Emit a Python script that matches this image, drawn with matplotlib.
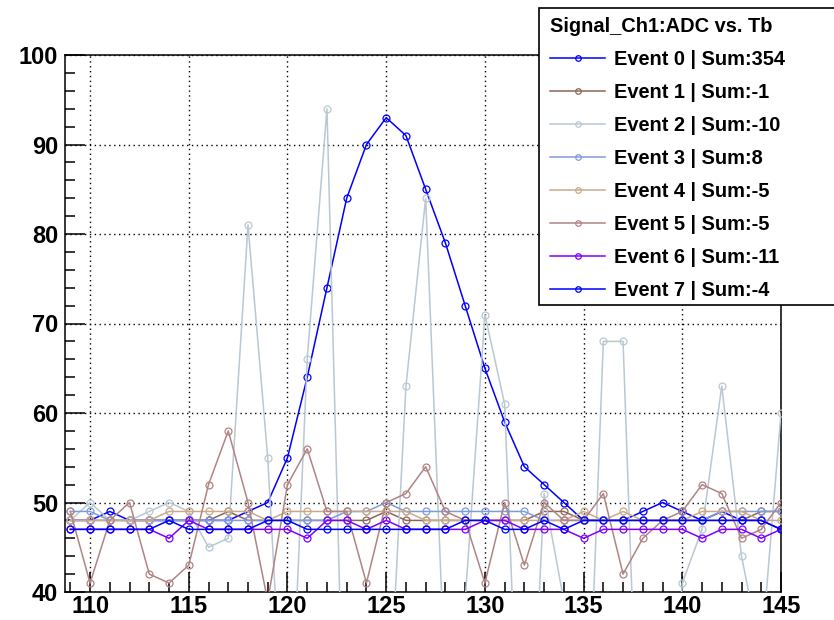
import matplotlib
matplotlib.use("Agg")
import matplotlib.pyplot as plt
from matplotlib.patches import Rectangle
from matplotlib.ticker import MultipleLocator

plt.rcParams['font.family'] = ['Liberation Sans', 'DejaVu Sans']
plt.rcParams['font.weight'] = 'bold'

tb = [109, 110, 111, 112, 113, 114, 115, 116, 117, 118, 119, 120, 121, 122, 123,
      124, 125, 126, 127, 128, 129, 130, 131, 132, 133, 134, 135, 136, 137, 138,
      139, 140, 141, 142, 143, 144, 145]

ev0 = [48, 48, 49, 48, 48, 48, 48, 48, 48, 49, 50, 55, 64, 74, 84, 90, 93, 91, 85,
       79, 72, 65, 59, 54, 52, 50, 48, 48, 48, 49, 50, 49, 48, 49, 48, 48, 47]
ev1 = [48, 48, 48, 48, 48, 48, 48, 48, 49, 48, 48, 48, 48, 48, 48, 48, 49, 48, 48,
       48, 48, 48, 48, 48, 49, 49, 48, 48, 48, 48, 48, 48, 48, 48, 48, 49, 49]
ev2 = [48, 50, 48, 48, 49, 50, 49, 45, 46, 81, 55, 15, 66, 94, 10, 15, 20, 63, 84,
       29, 39, 71, 61, 5, 51, 39, 10, 68, 68, 5, 10, 41, 47, 63, 44, 33, 60]
ev3 = [49, 49, 48, 48, 48, 48, 48, 48, 48, 48, 48, 48, 48, 48, 49, 49, 50, 49, 49,
       49, 49, 49, 49, 49, 48, 48, 48, 48, 48, 48, 48, 48, 48, 49, 49, 49, 49]
ev4 = [48, 48, 48, 48, 48, 49, 49, 49, 49, 49, 48, 49, 49, 49, 49, 49, 49, 49, 48,
       48, 48, 48, 48, 48, 48, 48, 49, 48, 49, 48, 48, 48, 49, 49, 49, 48, 48]
ev5 = [49, 41, 48, 50, 42, 41, 43, 52, 58, 50, 39, 52, 56, 49, 49, 41, 50, 51, 54,
       49, 48, 41, 50, 43, 50, 48, 48, 51, 42, 46, 48, 49, 52, 51, 46, 47, 50]
ev6 = [47, 47, 47, 47, 47, 46, 48, 47, 47, 47, 47, 47, 46, 48, 48, 47, 48, 47, 47,
       47, 47, 48, 48, 47, 47, 47, 46, 47, 47, 47, 47, 47, 46, 47, 47, 46, 47]
ev7 = [47, 47, 47, 47, 47, 48, 47, 47, 47, 47, 48, 48, 47, 47, 47, 47, 47, 47, 47,
       47, 48, 48, 47, 47, 48, 47, 48, 48, 48, 48, 48, 48, 48, 48, 48, 48, 47]

series = [ev0, ev1, ev2, ev3, ev4, ev5, ev6, ev7]
labels = ["Event 0 | Sum:354", "Event 1 | Sum:-1", "Event 2 | Sum:-10",
          "Event 3 | Sum:8", "Event 4 | Sum:-5", "Event 5 | Sum:-5",
          "Event 6 | Sum:-11", "Event 7 | Sum:-4"]
colors = ["#0000ff", "#8c6658", "#b9c8d2", "#7f9bd9", "#c9a98c", "#b08484",
          "#7f00ff", "#0000ff"]
legend_title = "Signal_Ch1:ADC vs. Tb"

W, H = 834, 620
fig = plt.figure(figsize=(W / 100, H / 100), dpi=100)
ax = fig.add_axes([65 / W, 1 - 592 / H, (781 - 65) / W, (592 - 55) / H])

handles = []
for vals, lab, col in zip(series, labels, colors):
    h, = ax.plot(tb, vals, color=col, lw=1.1, marker='o', ms=5.0,
                 mfc='none', mec=col, mew=0.9, label=lab, zorder=3)
    handles.append(h)

ax.set_xlim(108.73, 145.0)
ax.set_ylim(40, 100)
ax.xaxis.set_major_locator(MultipleLocator(5))
ax.xaxis.set_minor_locator(MultipleLocator(1))
ax.yaxis.set_major_locator(MultipleLocator(10))
ax.yaxis.set_minor_locator(MultipleLocator(2))
ax.tick_params(which='both', direction='in', top=False, right=False,
               labelsize=17, width=1.1, color='black')
ax.tick_params(which='major', length=14.5)
ax.tick_params(axis='y', which='major', pad=5)
ax.tick_params(axis='x', which='major', pad=2.5)
ax.tick_params(which='minor', length=7.5)
for lbl in ax.get_xticklabels() + ax.get_yticklabels():
    lbl.set_fontweight('bold')
ax.grid(True, which='major', color='black', linestyle=(0, (1, 2.5)), lw=1.0, zorder=1)
for s in ax.spines.values():
    s.set_linewidth(1.1)

# legend box
box = Rectangle((539 / W, 1 - 305 / H), 320 / W, (305 - 8) / H,
                transform=fig.transFigure, facecolor='white', edgecolor='black',
                lw=1.2, zorder=4, clip_on=False)
fig.patches.append(box)
leg = fig.legend(handles=handles, labels=labels, loc='upper left',
                 bbox_to_anchor=(546 / W, 1 - 13 / H), frameon=False,
                 prop={'size': 14.4, 'weight': 'bold'},
                 title=legend_title,
                 title_fontproperties={'size': 14.4, 'weight': 'bold'},
                 alignment='left', handlelength=2.75, handletextpad=0.45,
                 labelspacing=0.7, borderpad=0.2, borderaxespad=0,
                 markerscale=0.8)
leg.set_zorder(5)

fig.savefig("out.png", dpi=100)
